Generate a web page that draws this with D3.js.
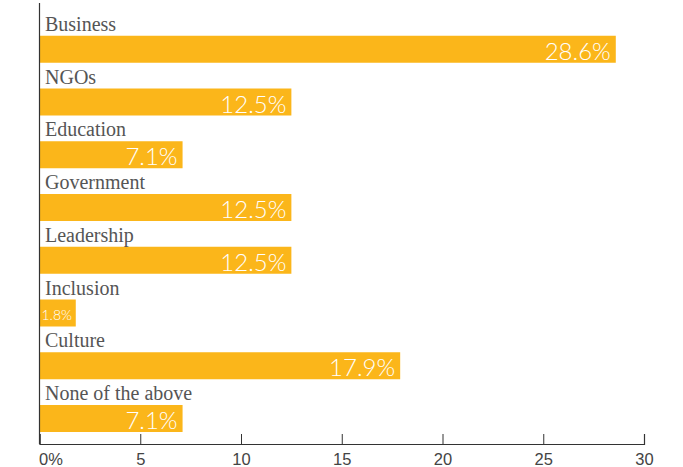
<!DOCTYPE html>
<html lang="en">
<head>
<meta charset="UTF-8">
<title>Sectors</title>
<script src="https://d3js.org/d3.v7.min.js"></script>
<style>
  body { margin: 0; background: #fff; }
  .cat { font-family: "Liberation Serif", serif; font-size: 20px; fill: #555; }
  .val { font-family: Lato, sans-serif; font-weight: 300; fill: #fff; }
  .tick text { font-family: "Liberation Sans", Arial, sans-serif; font-size: 16.5px; fill: #444; }
</style>
</head>
<body>
<script>
  const categories = ["Business", "NGOs", "Education", "Government", "Leadership", "Inclusion", "Culture", "None of the above"];
  const values = [28.6, 12.5, 7.1, 12.5, 12.5, 1.8, 17.9, 7.1];
  const tickValues = [0, 5, 10, 15, 20, 25, 30];

  const w = 683, h = 467;
  const barH = 27;

  const data = categories.map((c, i) => ({ cat: c, val: values[i] }));

  const svg = d3.select("body").append("svg")
    .attr("width", w)
    .attr("height", h);

  const x = d3.scaleLinear().domain([0, 30]).range([39.5, 644]);
  const y = d3.scaleBand().domain(categories).range([10, 432]);

  // bars sit at the bottom of each band, label above
  const barTop = d => y(d.cat) + y.bandwidth() - barH;
  const narrow = d => x(d.val) - x(0) < 60;

  svg.selectAll("rect.bar")
    .data(data)
    .enter()
    .append("rect")
    .attr("class", "bar")
    .attr("x", x(0))
    .attr("y", barTop)
    .attr("width", d => x(d.val) - x(0))
    .attr("height", barH)
    .attr("fill", "#fbb61a");

  svg.selectAll("text.cat")
    .data(data)
    .enter()
    .append("text")
    .attr("class", "cat")
    .attr("x", x(0) + 5.5)
    .attr("y", d => barTop(d) - 5)
    .text(d => d.cat);

  // value labels: right aligned inside the bar, small one for narrow bars
  svg.selectAll("text.val")
    .data(data)
    .enter()
    .append("text")
    .attr("class", "val")
    .attr("x", d => narrow(d) ? x(0) + 2 : x(d.val) - 5)
    .attr("y", d => barTop(d) + barH - (narrow(d) ? 7 : 3))
    .attr("text-anchor", d => narrow(d) ? "start" : "end")
    .style("font-size", d => narrow(d) ? "14px" : "24px")
    .text(d => d.val.toFixed(1) + "%");

  // x axis
  const xAxis = d3.axisBottom(x)
    .tickValues(tickValues)
    .tickSize(-10)
    .tickPadding(6)
    .tickFormat(d => d === 0 ? "0%" : d);

  const gx = svg.append("g")
    .attr("transform", "translate(0,444)")
    .call(xAxis);
  gx.select(".domain").attr("stroke", "#333").attr("stroke-width", 1.2);
  gx.selectAll(".tick line").attr("stroke", "#333");
  gx.selectAll(".tick text").attr("dy", "0.9em")
    .filter(d => d === 0).attr("text-anchor", "start").attr("dx", -1);

  // vertical axis line
  svg.append("line")
    .attr("x1", x(0)).attr("x2", x(0))
    .attr("y1", 3).attr("y2", 444)
    .attr("stroke", "#333")
    .attr("stroke-width", 1.2);
</script>
</body>
</html>
